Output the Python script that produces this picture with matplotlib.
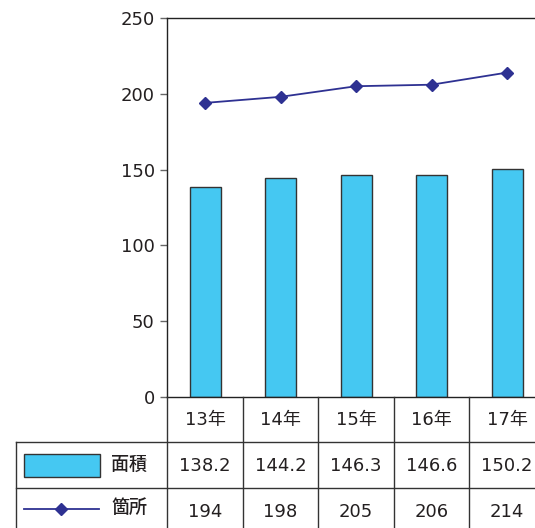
import matplotlib
matplotlib.use("Agg")
import matplotlib.pyplot as plt
from matplotlib.patches import Rectangle
from matplotlib.lines import Line2D

plt.rcParams['font.family'] = ['DejaVu Sans', 'Noto Sans CJK JP']

categories = ['13年', '14年', '15年', '16年', '17年']
area = [138.2, 144.2, 146.3, 146.6, 150.2]
count = [194, 198, 205, 206, 214]
area_labels = ['138.2', '144.2', '146.3', '146.6', '150.2']
count_labels = ['194', '198', '205', '206', '214']
series_names = ['面積', '箇所']
yticks = [0, 50, 100, 150, 200, 250]

W, H = 535, 528
fig = plt.figure(figsize=(W / 100, H / 100), dpi=100)

bar_color = '#45C8F2'
line_color = '#2E3192'
text_color = '#231F20'
grid_color = '#333333'

x0, col_w = 167.3, 75.5
top_px, zero_px = 18, 397
ax = fig.add_axes([x0 / W, (H - zero_px) / H, 5 * col_w / W, (zero_px - top_px) / H])
xs = list(range(len(categories)))
ax.bar(xs, area, width=0.41, color=bar_color, edgecolor='#333333', linewidth=1.0, zorder=2)
ax.plot(xs, count, color=line_color, marker='D', markersize=6.5, linewidth=1.3, zorder=3,
        clip_on=False)
ax.set_xlim(-0.5, len(categories) - 0.5)
ax.set_ylim(0, 250)
ax.set_yticks(yticks)
ax.set_xticks([])
ax.tick_params(axis='y', length=5, width=1, color='#666666', labelsize=13,
               labelcolor=text_color, pad=4)
for s in ['top', 'left', 'bottom', 'right']:
    ax.spines[s].set_color('#222222')
    ax.spines[s].set_linewidth(1.0)

# table overlay in pixel coordinates
tax = fig.add_axes([0, 0, 1, 1])
tax.set_xlim(0, W)
tax.set_ylim(H, 0)
tax.axis('off')

row_y = [397, 442, 487.5, 528]
left_px = 15.5
lw = 1.0
for y in row_y[1:3]:
    tax.add_line(Line2D([left_px, W], [y, y], color=grid_color, lw=lw))
for i in range(len(categories) + 1):
    xv = x0 + col_w * i
    tax.add_line(Line2D([xv, xv], [row_y[0], H], color=grid_color, lw=lw))
tax.add_line(Line2D([left_px, left_px], [row_y[1], H], color=grid_color, lw=lw))

fs = 13
for i, c in enumerate(categories):
    cx = x0 + col_w * (i + 0.5)
    tax.text(cx, 420, c, ha='center', va='center', fontsize=fs, color=text_color)
    tax.text(cx, 466, area_labels[i], ha='center', va='center', fontsize=fs, color=text_color)
    tax.text(cx, 512, count_labels[i], ha='center', va='center', fontsize=fs, color=text_color)

tax.add_patch(Rectangle((23.5, 454), 76, 23, facecolor=bar_color, edgecolor='#333333', lw=1.0))
tax.add_line(Line2D([24, 99], [509, 509], color=line_color, lw=1.3))
tax.add_line(Line2D([61], [509], color=line_color, marker='D', markersize=6.5, lw=0))
tax.text(111, 465, series_names[0], ha='left', va='center', fontsize=fs, color=text_color,
         fontweight='medium')
tax.text(111, 508, series_names[1], ha='left', va='center', fontsize=fs, color=text_color,
         fontweight='medium')

fig.savefig('out.png', dpi=100)
